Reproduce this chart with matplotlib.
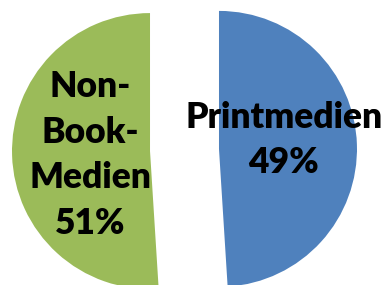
import matplotlib
matplotlib.use("Agg")
import matplotlib.pyplot as plt

# data
labels = ["Printmedien", "Non-Book-Medien"]
values = [49, 51]
colors = ["#4F81BD", "#9BBB59"]

W, H = 382, 285
fig = plt.figure(figsize=(W / 100, H / 100), dpi=100)
ax = fig.add_axes([0, 0, 1, 1])

# pie in pixel-like data coords (y up)
cx, cy, r = 184.5, H - 150, 138
off = 0.25 * r  # explode is absolute here
wedges, _ = ax.pie(values, colors=colors, startangle=90, counterclock=False,
                   explode=[off, off], center=(cx, cy), radius=r,
                   wedgeprops=dict(linewidth=0))

ax.set_xlim(0, W)
ax.set_ylim(0, H)
ax.set_aspect("equal")
ax.axis("off")

# labels
txt_kw = dict(ha="center", va="center", fontsize=25.5, fontweight="heavy",
              family="Lato", color="black", linespacing=1.48)
ax.text(284, H - 140, "%s\n%d%%" % (labels[0], values[0]), **txt_kw)
ax.text(90, H - 155, "Non-\nBook-\nMedien\n%d%%" % values[1], **txt_kw)

fig.savefig("out.png", dpi=100, facecolor="white")
